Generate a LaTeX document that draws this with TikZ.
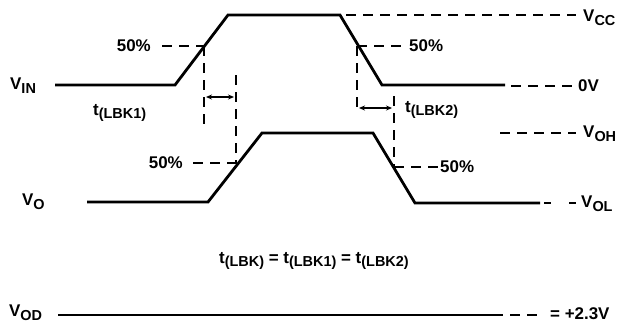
\documentclass[tikz,border=0pt]{standalone}
\usepackage{fontspec}
\setmainfont{Liberation Sans}[BoldFont={Liberation Sans Bold}]
\usetikzlibrary{arrows.meta,calc}
\newcommand\lsub[2]{#1\raisebox{-0.42ex}{\fontsize{14.5}{14.5}\selectfont\bfseries #2}}
\begin{document}
\begin{tikzpicture}[x=1bp,y=-1bp,
  sig/.style={line width=2.8bp, line join=miter},
  dsh/.style={line width=2.5bp, dash pattern=on 10bp off 7bp},
  txt/.style={font=\fontsize{17}{17}\selectfont\bfseries, inner sep=0pt},
  dim/.style={line width=1.4bp, {Stealth[length=6bp,width=5bp]}-{Stealth[length=6bp,width=5bp]}}]
\useasboundingbox (0,0) rectangle (629,326);
% VIN waveform
\coordinate (i0) at (55,85);
\coordinate (i1) at (175,85);
\coordinate (i2) at (228,15);
\coordinate (i3) at (340,15);
\coordinate (i4) at (382,85);
\coordinate (i5) at (505,85);
\draw[sig] (i0) -- (i1) -- (i2) -- (i3) -- (i4) -- (i5);
% VO waveform
\coordinate (o0) at (87,202);
\coordinate (o1) at (208,202);
\coordinate (o2) at (262,133);
\coordinate (o3) at (373,133);
\coordinate (o4) at (415,203);
\coordinate (o5) at (540,203);
\draw[sig] (o0) -- (o1) -- (o2) -- (o3) -- (o4) -- (o5);
% VOD
\coordinate (d0) at (58,315);
\coordinate (d1) at (493,315);
\coordinate (d2) at (538,315);
\draw[sig] (d0) -- (d1);
\draw[dsh] (d1) -- (d2);
% labels
\node[txt, anchor=west] (vin) at (10,86) {\lsub{V}{IN}};
\node[txt, anchor=west] (vo) at (22,202) {\lsub{V}{O}};
\node[txt, anchor=west] (vod) at (9,313) {\lsub{V}{OD}};
\node[txt, anchor=west] (vcc) at (583,18) {\lsub{V}{CC}};
\node[txt, anchor=west] (zv) at (578,86) {0V};
\node[txt, anchor=west] (voh) at (583,134) {\lsub{V}{OH}};
\node[txt, anchor=west] (vol) at (581,204) {\lsub{V}{OL}};
\node[txt, anchor=west] (p23) at (550,314) {= +2.3V};
\node[txt, anchor=west] (t1) at (93,113) {\lsub{t}{(LBK1)}};
\node[txt, anchor=west] (t2) at (405,110) {\lsub{t}{(LBK2)}};
\node[txt, anchor=west] (eq) at (219,261) {\lsub{t}{(LBK)} = \lsub{t}{(LBK1)} = \lsub{t}{(LBK2)}};
% 50% labels
\node[txt, anchor=east] (pa) at (151,46) {50\%};
\node[txt, anchor=west] (pb) at (409,46) {50\%};
\node[txt, anchor=east] (pc) at (183,163) {50\%};
\node[txt, anchor=west] (pd) at (440,167) {50\%};
% reference dashed lines
\coordinate (ca) at (204,46);
\coordinate (cb) at (357,46);
\coordinate (cc) at (238,163);
\coordinate (cd) at (394,167);
\draw[dsh] ($(pa.east)+(11,0)$) -- (ca);
\draw[dsh] (cb) -- ($(pb.west)+(-8,0)$);
\draw[dsh] ($(pc.east)+(10,0)$) -- (cc);
\draw[dsh] (cd) -- (pd.west);
\draw[dsh] ($(i3)+(6,0)$) -- ($(vcc.west)+(-7,-3)$);
\draw[dsh] ($(i5)+(6,1)$) -- (zv.west);
\coordinate (h0) at (500,133);
\draw[dsh] (h0) -- ($(voh.west)+(-7,-1)$);
\draw[line width=2.5bp, dash pattern=on 7bp off 18bp] ($(o5)+(4,0)$) -- ($(vol.west)+(-4,-1)$);
% vertical dashed markers
\coordinate (va) at (204,125);
\coordinate (vb) at (236,75);
\coordinate (vc) at (357,112);
\coordinate (vd) at (394,96);
\draw[dsh] (ca) -- (va);
\draw[dsh] (vb) -- (236,163);
\draw[dsh] (cb) -- (vc);
\draw[dsh] (vd) -- (cd);
% delay arrows
\draw[dim] (206,97) -- (234,97);
\draw[dim] (359,108) -- (392,108);
\end{tikzpicture}
\end{document}
